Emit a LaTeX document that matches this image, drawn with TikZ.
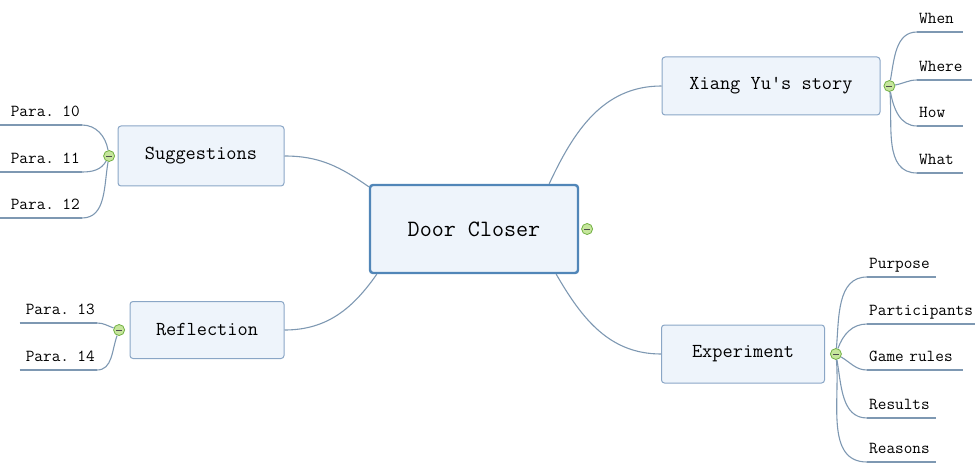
\documentclass[tikz,border=0pt]{standalone}
\usepackage{fontspec}
\usetikzlibrary{positioning}
\definecolor{boxline}{HTML}{8AA6C6}
\definecolor{boxfill}{HTML}{EEF4FB}
\definecolor{mainline}{HTML}{5186B8}
\definecolor{branchcol}{HTML}{7E98B2}
\definecolor{knobfill}{HTML}{C6E69C}
\definecolor{knobline}{HTML}{72B043}
\tikzstyle{centre} = [rectangle, rounded corners=3pt,
minimum width=208pt,
minimum height=88pt,
draw=mainline, line width=2.4pt,
fill=boxfill,
font=\ttfamily\fontsize{23.4}{28}\selectfont]
\tikzstyle{topic} = [rectangle, rounded corners=3pt,
minimum height=58pt,
draw=boxline, line width=1pt,
fill=boxfill,
font=\ttfamily\fontsize{19.8}{24}\selectfont]
\tikzstyle{knob} = [circle, inner sep=0pt,
minimum size=11pt,
draw=knobline, fill=knobfill, line width=0.8pt,
path picture={\draw[black!70, line width=0.8pt]
([xshift=-3pt]path picture bounding box.center) --
([xshift=3pt]path picture bounding box.center);}]
\tikzstyle{branch} = [draw=branchcol, line width=1.1pt]
\tikzset{
leaf/.style={anchor=south west, text width=#1, align=left,
inner xsep=2pt, inner ysep=4pt, text depth=4pt,
font=\ttfamily\fontsize{16.8}{20}\selectfont},
leftleaf/.style={anchor=south east, text width=#1, align=right,
inner xsep=2pt, inner ysep=4pt, text depth=4pt,
font=\ttfamily\fontsize{16.8}{20}\selectfont}
}

\begin{document}
\begin{tikzpicture}[x=1pt, y=1pt]
\useasboundingbox (0,0) rectangle (976,464);
% main topics
\node (centre) [centre] at (474,235) {Door Closer};
\node (xiang) [topic, minimum width=218pt] at (771,378) {Xiang Yu's story};
\node (suggest) [topic, minimum width=166pt, minimum height=60pt] at (201,308) {Suggestions};
\node (reflect) [topic, minimum width=154pt, minimum height=57pt] at (207,134) {Reflection};
\node (experiment) [topic, minimum width=163pt] at (743,110) {Experiment};
\node (cknob) [knob, right=2pt of centre] {};
\node (xknob) [knob, right=3pt of xiang] {};
\node (sknob) [knob, left=2.5pt of suggest] {};
\node (rknob) [knob, left=4.5pt of reflect] {};
\node (eknob) [knob, right=5pt of experiment] {};
% leaves
\node (when) [leaf=42pt] at (917,432) {When};
\node (where) [leaf=51pt] at (917,384) {Where};
\node (how) [leaf=42pt] at (917,338) {How};
\node (what) [leaf=42pt] at (917,291) {What};
\node (purpose) [leaf=65pt] at (867,187) {Purpose};
\node (partic) [leaf=104pt] at (867,140) {Participants};
\node (rules) [leaf=92pt] at (867,94) {Game rules};
\node (results) [leaf=65pt] at (867,46) {Results};
\node (reasons) [leaf=65pt] at (867,2) {Reasons};
\node (p10) [leftleaf=78pt] at (82,339) {Para. 10};
\node (p11) [leftleaf=78pt] at (82,292) {Para. 11};
\node (p12) [leftleaf=78pt] at (82,246) {Para. 12};
\node (p13) [leftleaf=73pt] at (97,141) {Para. 13};
\node (p14) [leftleaf=73pt] at (97,94) {Para. 14};

\draw[branch] (suggest.east) edge[out=0, in=145] ([yshift=-3pt]centre.north west)
  ([xshift=-30pt]centre.north east) edge[out=65, in=180] (xiang.west)
  (reflect.east) edge[out=0, in=-125] ([xshift=8pt]centre.south west)
  ([xshift=-23pt]centre.south east) edge[out=-60, in=180] (experiment.west);

\draw[branch] (xknob) edge[out=80, in=180] (when.south west)
  (xknob) edge[out=10, in=180] (where.south west)
  (xknob) edge[out=-80, in=180] (how.south west)
  (xknob) edge[out=-85, in=180] (what.south west)
  (eknob) edge[out=85, in=180] (purpose.south west)
  (eknob) edge[out=70, in=180] (partic.south west)
  (eknob) edge[out=-30, in=180] (rules.south west)
  (eknob) edge[out=-80, in=180] (results.south west)
  (eknob) edge[out=-85, in=180] (reasons.south west)
  (sknob) edge[out=100, in=0] (p10.south east)
  (sknob) edge[out=-120, in=0] (p11.south east)
  (sknob) edge[out=-100, in=0] (p12.south east)
  (rknob) edge[out=160, in=0] (p13.south east)
  (rknob) edge[out=-110, in=0] (p14.south east);

% underlines
\foreach \leafname in {when, where, how, what, purpose, partic, rules, results, reasons, p10, p11, p12, p13, p14}
  \draw[branch] (\leafname.south west) -- (\leafname.south east);
\end{tikzpicture}
\end{document}
